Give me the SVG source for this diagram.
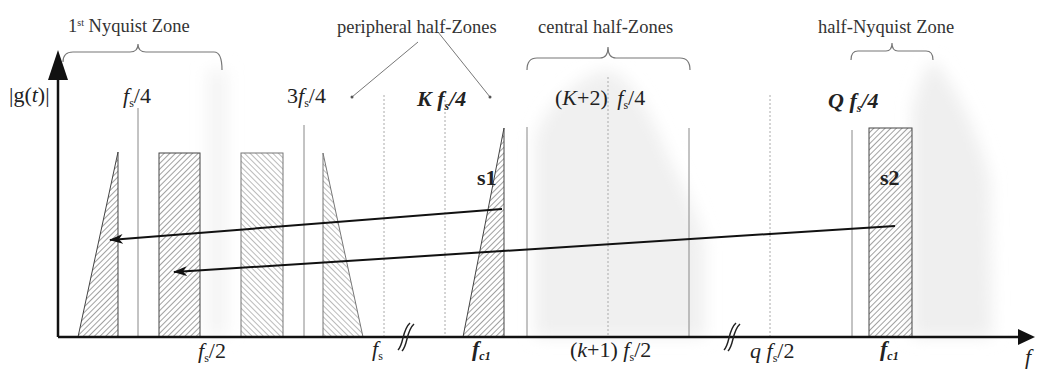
<svg xmlns="http://www.w3.org/2000/svg" width="1037" height="371" viewBox="0 0 1037 371">
<defs>
<style>
text{font-family:"Liberation Serif","Times New Roman",serif;fill:#222}
.lbl{font-size:18.5px;fill:#333}
.ax{font-size:22px}
.b{font-weight:bold}
.i{font-style:italic}
.sub{font-size:12px}
.grid{stroke:#888;stroke-width:1;fill:none}
.dot{stroke:#aaa;stroke-width:1;stroke-dasharray:2 2;fill:none}
.brace{stroke:#777;stroke-width:1.2;fill:none}
.sig{stroke:#444;stroke-width:1}
.sigl{stroke:#777;stroke-width:1}
.conn{stroke:#111;stroke-width:2;fill:none}
</style>
<pattern id="hf" patternUnits="userSpaceOnUse" width="4" height="4" patternTransform="rotate(45)">
<line x1="0" y1="0" x2="0" y2="4" stroke="#444" stroke-width="1"/>
</pattern>
<pattern id="hb" patternUnits="userSpaceOnUse" width="4" height="4" patternTransform="rotate(-45)">
<line x1="0" y1="0" x2="0" y2="4" stroke="#777" stroke-width="1"/>
</pattern>
<filter id="blur" x="-30%" y="-30%" width="160%" height="160%"><feGaussianBlur stdDeviation="8"/></filter>
<marker id="ah" viewBox="0 0 14 10" refX="13" refY="5" markerWidth="14" markerHeight="10" markerUnits="userSpaceOnUse" orient="auto">
<path d="M0,0 L14,5 L0,10 L4,5 Z" fill="#111"/>
</marker>
</defs>
<rect width="1037" height="371" fill="#fff"/>
<g id="shading" filter="url(#blur)">
<path d="M535,337 L535,140 C545,100 590,70 608,70 C630,75 650,110 670,160 C690,200 705,230 705,250 L705,337 Z" fill="#f0f0f0"/>
<path d="M912,337 L912,110 C920,80 928,60 935,62 C950,80 975,120 990,180 L992,337 Z" fill="#efefef"/>
<rect x="207" y="70" width="20" height="267" fill="#f4f4f4"/>
</g>
<g id="grid">
<line class="grid" x1="138" y1="108" x2="138" y2="337"/>
<line class="grid" x1="304" y1="125" x2="304" y2="337"/>
<line class="dot" x1="384" y1="95" x2="384" y2="337"/>
<line class="dot" x1="445" y1="100" x2="445" y2="337"/>
<line class="grid" x1="527" y1="127" x2="527" y2="337"/>
<line class="dot" x1="608" y1="77" x2="608" y2="337"/>
<line class="grid" x1="689" y1="128" x2="689" y2="337"/>
<line class="dot" x1="770" y1="95" x2="770" y2="337"/>
<line class="grid" x1="852" y1="130" x2="852" y2="337"/>
</g>
<g id="sig-tri-left"><path d="M118,152 L118,337 L78,337 Z" fill="url(#hf)" class="sig"/></g>
<g id="sig-rect1"><rect x="159" y="153" width="41" height="184" fill="url(#hf)" class="sig"/></g>
<g id="sig-rect2"><rect x="241" y="153" width="42" height="184" fill="url(#hb)" class="sigl"/></g>
<g id="sig-tri-right"><path d="M323,153 L323,337 L363,337 Z" fill="url(#hb)" class="sigl"/></g>
<g id="s1"><path d="M504,128 L504,337 L463,337 Z" fill="url(#hf)" class="sig"/>
<text x="477" y="185" class="ax b">s1</text></g>
<g id="s2"><rect x="869" y="128" width="43" height="209" fill="url(#hf)" class="sig"/>
<text x="880" y="185" class="ax b">s2</text></g>
<g id="axes">
<line x1="58" y1="337" x2="58" y2="78" stroke="#111" stroke-width="2.5"/>
<path d="M58,50 L68,80 L48,80 Z" fill="#111"/>
<line x1="58" y1="337" x2="1020" y2="337" stroke="#111" stroke-width="2.5"/>
<path d="M1035,337 L1018,329 L1018,345 Z" fill="#111"/>
<path d="M398,350 C404,344 402,330 410,323 M402,351 C408,345 406,331 414,324" stroke="#222" stroke-width="1.5" fill="none"/>
<path d="M724,350 C730,344 728,330 736,323 M728,351 C734,345 732,331 740,324" stroke="#222" stroke-width="1.5" fill="none"/>
</g>
<g id="braces">
<path class="brace" d="M63,62 Q63,52 73,52 L130,52 Q138,52 138,44 Q138,52 146,52 L214,52 Q222,52 222,70"/>
<path class="brace" d="M527,70 Q527,58 537,58 L600,58 Q608,58 608,47 Q608,58 616,58 L680,58 Q690,58 690,70"/>
<path class="brace" d="M851,60 Q851,51 858,51 L886,51 Q892,51 892,43 Q892,51 898,51 L926,51 Q933,51 933,60"/>
<line x1="352" y1="97" x2="418" y2="42" stroke="#777" stroke-width="1"/>
<line x1="438" y1="32" x2="490" y2="97" stroke="#777" stroke-width="1"/>
<circle cx="352" cy="97" r="1.5" fill="#555"/><circle cx="490" cy="97" r="1.5" fill="#555"/>
</g>
<g id="labels">
<text x="68" y="32" class="lbl">1<tspan dy="-6" font-size="10">st</tspan><tspan dy="6"> Nyquist Zone</tspan></text>
<text x="337" y="33" class="lbl">peripheral half-Zones</text>
<text x="538" y="33" class="lbl">central half-Zones</text>
<text x="818" y="33" class="lbl">half-Nyquist Zone</text>
<text x="9" y="102" font-size="22">|g(<tspan class="i">t</tspan>)|</text>
<text x="123" y="103" class="ax"><tspan class="i">f</tspan><tspan class="sub" dy="4">s</tspan><tspan dy="-4">/4</tspan></text>
<text x="287" y="103" class="ax">3<tspan class="i">f</tspan><tspan class="sub" dy="4">s</tspan><tspan dy="-4">/4</tspan></text>
<text x="417" y="106" class="ax b i">K <tspan>f</tspan><tspan class="sub" dy="4">s</tspan><tspan dy="-4">/4</tspan></text>
<text x="555" y="105" class="ax" word-spacing="4">(<tspan class="i">K</tspan>+2) <tspan class="i">f</tspan><tspan class="sub" dy="4">s</tspan><tspan dy="-4">/4</tspan></text>
<text x="828" y="108" class="ax b i">Q <tspan>f</tspan><tspan class="sub" dy="4">s</tspan><tspan dy="-4">/4</tspan></text>
<text x="198" y="358" class="ax"><tspan class="i">f</tspan><tspan class="sub" dy="4">s</tspan><tspan dy="-4">/2</tspan></text>
<text x="372" y="356" class="ax"><tspan class="i">f</tspan><tspan class="sub" dy="4">s</tspan></text>
<text x="472" y="356" class="ax b i">f<tspan class="sub" dy="4">c1</tspan></text>
<text x="570" y="357" class="ax">(<tspan class="i">k</tspan>+1) <tspan class="i">f</tspan><tspan class="sub" dy="4">s</tspan><tspan dy="-4">/2</tspan></text>
<text x="750" y="358" class="ax"><tspan class="i">q f</tspan><tspan class="sub" dy="4">s</tspan><tspan dy="-4">/2</tspan></text>
<text x="880" y="356" class="ax b i">f<tspan class="sub" dy="4">c1</tspan></text>
<text x="1025" y="364" class="ax i">f</text>
</g>
<g id="connectors">
<line class="conn" x1="502" y1="209" x2="110" y2="240" marker-end="url(#ah)"/>
<line class="conn" x1="895" y1="226" x2="174" y2="272" marker-end="url(#ah)"/>
</g>
</svg>
